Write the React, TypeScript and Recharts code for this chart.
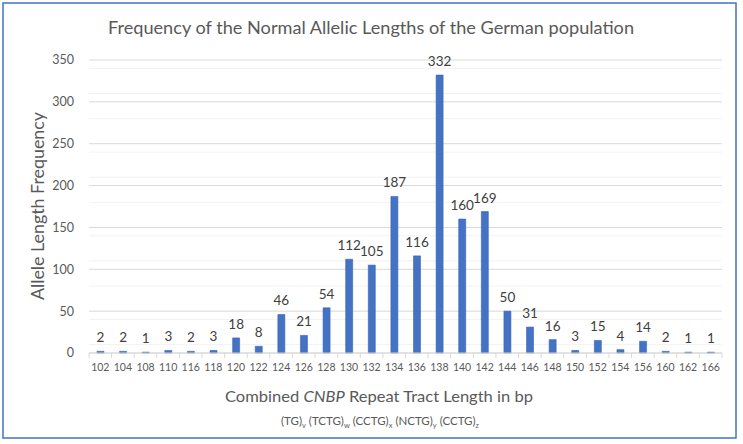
import React from 'react';
import { BarChart, Bar, XAxis, YAxis, CartesianGrid, LabelList } from 'recharts';

const lengths = ['102', '104', '108', '110', '116', '118', '120', '122', '124', '126', '128', '130', '132', '134', '136', '138', '140', '142', '144', '146', '148', '150', '152', '154', '156', '160', '162', '166'];
const counts = [2, 2, 1, 3, 2, 3, 18, 8, 46, 21, 54, 112, 105, 187, 116, 332, 160, 169, 50, 31, 16, 3, 15, 4, 14, 2, 1, 1];
const yTicks = [0, 50, 100, 150, 200, 250, 300, 350];
const minorTicks = [10, 20, 30, 40, 60, 70, 80, 90, 110, 120, 130, 140, 160, 170, 180, 190, 210, 220, 230, 240, 260, 270, 280, 290, 310, 320, 330, 340];

const data = lengths.map((len, i) => ({ len, count: counts[i] }));

const W = 743;
const H = 444;
const FONT = 'Lato, "Open Sans", sans-serif';
const plotLeft = 89;
const plotRight = 21;
const bandHalf = (W - plotLeft - plotRight) / lengths.length / 2;

function XTick(props: any) {
  const { x, y, payload } = props;
  return (
    <g>
      <line x1={x - bandHalf} x2={x - bandHalf} y1={y} y2={y + 5} stroke="#d9d9d9" />
      {payload.index === lengths.length - 1 && (
        <line x1={x + bandHalf} x2={x + bandHalf} y1={y} y2={y + 5} stroke="#d9d9d9" />
      )}
      <text x={x} y={y + 18} textAnchor="middle" fill="#595959" fontSize={10.5} fontFamily={FONT}>
        {payload.value}
      </text>
    </g>
  );
}

export default function App() {
  return (
    <div style={{ position: 'absolute', left: 0, top: 0, width: W, height: H, background: '#fff' }}>
      <BarChart width={W} height={H} data={data} margin={{ top: 60, right: plotRight, left: 0, bottom: 0 }} barCategoryGap={0}>
        <CartesianGrid vertical={false} horizontalValues={minorTicks} stroke="#f2f2f2" />
        <CartesianGrid vertical={false} horizontalValues={yTicks} stroke="#d9d9d9" />
        <XAxis
          dataKey="len"
          height={91}
          interval={0}
          tickSize={0}
          tickMargin={0}
          axisLine={{ stroke: '#d9d9d9' }}
          tick={<XTick />}
        />
        <YAxis
          width={plotLeft}
          domain={[0, 350]}
          ticks={yTicks}
          axisLine={false}
          tickLine={false}
          tickSize={0}
          tickMargin={15}
          tick={{ fontSize: 12.5, fill: '#595959', fontFamily: FONT }}
        />
        <Bar dataKey="count" fill="#4472C4" stroke="#3864b4" strokeWidth={0.6} barSize={7} isAnimationActive={false}>
          <LabelList dataKey="count" position="top" offset={9} fill="#404040" fontSize={13.5} fontFamily={FONT} />
        </Bar>
      </BarChart>
      <svg width={W} height={H} style={{ position: 'absolute', left: 0, top: 0, pointerEvents: 'none' }}>
        <rect x={3} y={3} width={733} height={435} fill="none" stroke="#4472C4" strokeWidth={1.5} />
        <text x={371} y={34} textAnchor="middle" fill="#595959" fontSize={18} fontFamily={FONT} textLength={526} lengthAdjust="spacingAndGlyphs">
          Frequency of the Normal Allelic Lengths of the German population
        </text>
        <text x={0} y={0} transform="translate(44,206) rotate(-90)" textAnchor="middle" fill="#595959" fontSize={18} fontFamily={FONT} textLength={188} lengthAdjust="spacingAndGlyphs">
          Allele Length Frequency
        </text>
        <text x={379} y={402} textAnchor="middle" fill="#595959" fontSize={16} fontFamily={FONT} textLength={308} lengthAdjust="spacingAndGlyphs">
          Combined <tspan fontStyle="italic">CNBP</tspan> Repeat Tract Length in bp
        </text>
        <text x={380} y={425} textAnchor="middle" fill="#595959" fontSize={11.5} fontFamily={FONT}>
          (TG)<tspan fontSize={7.5} dy={3}>v</tspan>
          <tspan dy={-3}> (TCTG)</tspan><tspan fontSize={7.5} dy={3}>w</tspan>
          <tspan dy={-3}> (CCTG)</tspan><tspan fontSize={7.5} dy={3}>x</tspan>
          <tspan dy={-3}> (NCTG)</tspan><tspan fontSize={7.5} dy={3}>y</tspan>
          <tspan dy={-3}> (CCTG)</tspan><tspan fontSize={7.5} dy={3}>z</tspan>
        </text>
      </svg>
    </div>
  );
}
